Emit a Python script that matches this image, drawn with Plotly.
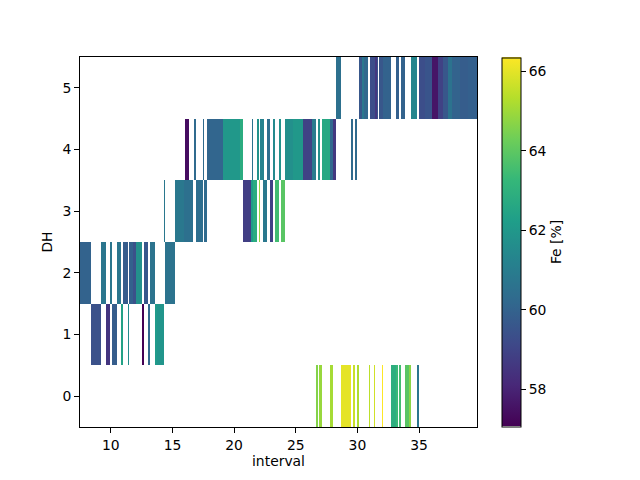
import plotly.graph_objects as go

# ---- data: per drill hole (DH) interval segments and Fe [%] values ----
dh0_from = [26.64, 26.88, 27.78, 28.67, 29.67, 29.97, 30.94, 31.32, 31.97, 32.73, 33.13, 33.38, 33.86, 34.19, 34.81]
dh0_to   = [26.80, 27.13, 28.02, 29.48, 29.81, 30.13, 31.05, 31.46, 32.05, 33.13, 33.28, 33.54, 34.19, 34.33, 34.98]
dh0_fe   = [64.6, 64.9, 65.1, 66.0, 65.6, 65.2, 65.4, 65.7, 66.35, 62.9, 63.3, 63.5, 63.9, 64.7, 60.7]

dh1_from = [8.38, 9.59, 10.08, 10.81, 11.38, 12.52, 13.00, 13.57, 13.75]
dh1_to   = [9.19, 9.92, 10.49, 10.97, 11.46, 12.68, 13.16, 13.75, 14.30]
dh1_fe   = [59.4, 58.5, 59.8, 62.4, 61.6, 57.07, 60.2, 62.1, 61.9]

dh2_from = [7.50, 9.19, 9.92, 10.49, 10.97, 11.46, 11.81, 12.03, 12.68, 13.16, 14.38]
dh2_to   = [8.38, 9.59, 10.08, 10.81, 11.38, 11.81, 12.03, 12.52, 13.00, 13.57, 15.19]
dh2_fe   = [60.0, 60.7, 60.7, 60.7, 59.8, 59.9, 59.4, 61.7, 59.6, 60.6, 60.6]

dh3_from = [14.30, 15.19, 15.90, 16.90, 17.55, 20.71, 21.36, 21.50, 21.99, 22.38, 22.88, 23.29, 23.80]
dh3_to   = [14.38, 15.90, 16.68, 17.44, 17.77, 21.36, 21.50, 21.83, 22.07, 22.65, 23.15, 23.66, 24.15]
dh3_fe   = [60.8, 60.8, 60.5, 60.4, 60.3, 58.8, 62.2, 62.8, 64.8, 60.8, 58.9, 63.5, 63.9]

dh4_from = [16.00, 16.73, 17.44, 17.82, 19.12, 20.47, 21.42, 21.83, 22.10, 22.65, 23.13, 23.66, 24.12, 24.80, 25.60, 26.28, 26.83, 27.10, 27.78, 28.05, 29.48, 29.81]
dh4_to   = [16.37, 16.89, 17.55, 19.12, 20.47, 20.74, 21.53, 21.99, 22.45, 22.88, 23.29, 23.82, 24.80, 25.60, 26.28, 26.64, 26.96, 27.78, 28.05, 28.24, 29.62, 29.94]
dh4_fe   = [57.4, 60.3, 60.3, 60.1, 62.0, 62.8, 60.6, 61.8, 61.2, 60.4, 61.5, 61.8, 61.7, 62.0, 58.9, 60.9, 61.7, 62.6, 60.2, 58.6, 60.3, 60.3]

dh5_from = [28.26, 30.13, 30.40, 30.56, 31.02, 31.43, 31.57, 31.78, 32.10, 33.11, 33.54, 34.35, 35.00, 35.50, 36.08, 36.52, 36.97, 37.33, 37.65, 38.30, 39.00]
dh5_to   = [28.65, 30.40, 30.56, 30.88, 31.43, 31.57, 31.70, 32.10, 32.70, 33.38, 33.86, 34.84, 35.50, 36.08, 36.52, 36.97, 37.33, 37.65, 38.30, 39.00, 39.70]
dh5_fe   = [60.5, 59.6, 60.8, 60.2, 59.3, 58.6, 59.5, 59.6, 60.0, 59.9, 60.0, 61.3, 59.3, 59.5, 57.6, 58.9, 59.6, 60.6, 60.0, 59.8, 59.9]

dh_values = [0, 1, 2, 3, 4, 5]
x_ticks = [10, 15, 20, 25, 30, 35]
cbar_ticks = [58, 60, 62, 64, 66]

rows = [
    (dh0_from, dh0_to, dh0_fe),
    (dh1_from, dh1_to, dh1_fe),
    (dh2_from, dh2_to, dh2_fe),
    (dh3_from, dh3_to, dh3_fe),
    (dh4_from, dh4_to, dh4_fe),
    (dh5_from, dh5_to, dh5_fe),
]

# build a common set of cell edges and a gridded Fe matrix (None = no sample)
edges = sorted(set(v for f, t, _ in rows for v in f + t))
z = []
for f, t, fe in rows:
    row = []
    for i in range(len(edges) - 1):
        mid = 0.5 * (edges[i] + edges[i + 1])
        val = None
        for a, b, v in zip(f, t, fe):
            if a <= mid < b:
                val = v
                break
        row.append(val)
    z.append(row)

all_fe = [v for _, _, fe in rows for v in fe]

FONT = dict(family="DejaVu Sans", size=13.9, color="black")

fig = go.Figure(go.Heatmap(
    x=edges, y=dh_values, z=z,
    colorscale="Viridis", zmin=min(all_fe), zmax=max(all_fe),
    hoverongaps=False,
    colorbar=dict(
        x=(502 - 80) / 397, xanchor="left", xpad=0,
        y=0.5, yanchor="middle", ypad=0,
        len=369 / 370, lenmode="fraction",
        thickness=18.5, thicknessmode="pixels",
        outlinewidth=1, outlinecolor="black",
        ticks="outside", ticklen=5, tickwidth=1, tickcolor="black",
        tickvals=cbar_ticks,
        tickfont=FONT,
        title=dict(text="Fe [%]", side="right", font=FONT),
    ),
))

axis_common = dict(
    showline=True, linecolor="black", linewidth=1, mirror=True,
    ticks="outside", ticklen=5, tickwidth=1, tickcolor="black",
    showgrid=False, zeroline=False,
    tickfont=FONT,
)

# the page body adds an 8px offset, so margins are shifted to compensate
fig.update_layout(
    width=640, height=480,
    margin=dict(l=72, r=171, t=49, b=61),
    paper_bgcolor="white", plot_bgcolor="white",
    font=FONT,
    xaxis=dict(range=[7.5, 39.7], tickvals=x_ticks,
               title=dict(text="interval", standoff=4, font=FONT), **axis_common),
    yaxis=dict(range=[-0.5, 5.5], tickvals=dh_values,
               title=dict(text="DH", standoff=6, font=FONT), **axis_common),
)

fig.write_html("out.html")
